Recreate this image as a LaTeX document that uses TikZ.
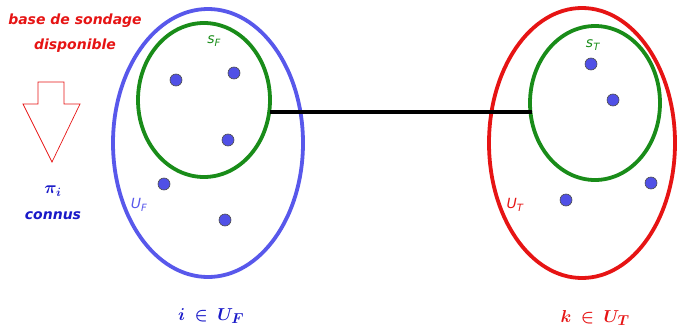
\documentclass[tikz,border=0pt]{standalone}
\usepackage{fontspec}
\setsansfont{DejaVu Sans}
\usepackage{amsmath}
\usepackage{bm}
\definecolor{ublue}{RGB}{88,88,235}
\definecolor{dotblue}{RGB}{80,80,230}
\definecolor{tblue}{RGB}{25,25,200}
\definecolor{sgreen}{RGB}{25,140,25}
\definecolor{ured}{RGB}{230,20,20}
\begin{document}
\begin{tikzpicture}[x=1pt,y=-1pt,
  pop/.style={line width=3.8pt},
  samp/.style={line width=3.8pt, draw=sgreen},
  unit/.style={circle, fill=dotblue, draw=black!70, line width=0.6pt, minimum size=12pt, inner sep=0pt},
  lab/.style={font=\sffamily\bfseries\itshape\fontsize{14}{16}\selectfont},
  setlab/.style={font=\sffamily\fontsize{14}{16}\selectfont}
]
\useasboundingbox (0,0) rectangle (677,332);
% populations
\draw[pop, draw=ublue] (208,143) ellipse [x radius=95, y radius=134];
\draw[pop, draw=ured] (582,143) ellipse [x radius=93, y radius=135];
% samples
\draw[samp] (204,100) ellipse [x radius=66, y radius=77];
\draw[samp] (595,103) ellipse [x radius=65, y radius=77];
\coordinate (lf) at (270,112);
\coordinate (lt) at (532,112);
\draw[line width=3.8pt] (lf) -- (lt);
% units F
\node[unit] (f1) at (176,80) {};
\node[unit] (f2) at (234,73) {};
\node[unit] (f3) at (228,140) {};
\node[unit] (f4) at (164,184) {};
\node[unit] (f5) at (225,220) {};
% units T
\node[unit] (t1) at (591,64) {};
\node[unit] (t2) at (613,100) {};
\node[unit] (t3) at (651,183) {};
\node[unit] (t4) at (566,200) {};
% labels in the sets
\node[setlab, text=sgreen] (sF) at (214,41) {\textit{s}\raisebox{-2.5pt}{\fontsize{10}{12}\selectfont\textit{F}}};
\node[setlab, text=sgreen] (sT) at (593,45) {\textit{s}\raisebox{-2.5pt}{\fontsize{10}{12}\selectfont\textit{T}}};
\node[setlab, text=ublue] (UF) at (139,205) {\textit{U}\raisebox{-2.5pt}{\fontsize{10}{12}\selectfont\textit{F}}};
\node[setlab, text=ured] (UT) at (515,205) {\textit{U}\raisebox{-2.5pt}{\fontsize{10}{12}\selectfont\textit{T}}};
% bottom labels
\node[text=tblue, font=\fontsize{19}{22}\selectfont] (memF) at (211,316) {$\bm{i \;\in\; U_F}$};
\node[text=ured, font=\fontsize{19}{22}\selectfont] (memT) at (595,318) {$\bm{k \;\in\; U_T}$};
% left texts
\node[lab, text=ured] (base) at (75,21) {base de sondage};
\node[lab, text=ured] (disp) at (75,46) {disponible};
\node[text=tblue, font=\fontsize{17}{20}\selectfont] (pinode) at (53,191) {$\bm{\pi_i}$};
\node[lab, text=tblue] (conn) at (53,216) {connus};
% hollow arrow
\draw[ured, line width=0.7pt, line join=miter] (38,82) -- (64,82) -- (64,104) -- (80,104) -- (52,162) -- (23,104) -- (38,104) -- cycle;
\end{tikzpicture}
\end{document}
